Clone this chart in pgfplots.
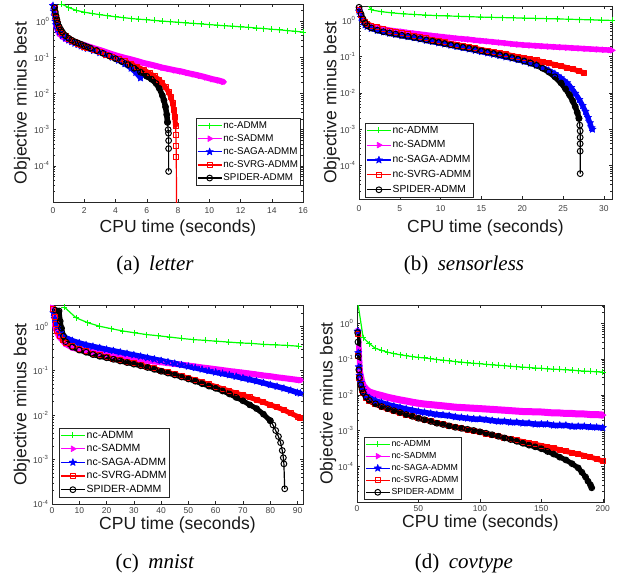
\documentclass[border=0pt]{standalone}
\usepackage{fontspec}
\setmainfont{Liberation Sans}
\newfontfamily\capfont{Liberation Serif}
\usepackage{pgfplots}
\pgfplotsset{compat=1.18}
\usetikzlibrary{plotmarks}
\pgfkeys{/pgf/number format/assume math mode=true}

\pgfdeclareplotmark{pentagram*}{%
  \pgfpathmoveto{\pgfpointpolar{90}{\pgfplotmarksize}}%
  \pgfpathlineto{\pgfpointpolar{126}{0.4\pgfplotmarksize}}%
  \pgfpathlineto{\pgfpointpolar{162}{\pgfplotmarksize}}%
  \pgfpathlineto{\pgfpointpolar{198}{0.4\pgfplotmarksize}}%
  \pgfpathlineto{\pgfpointpolar{234}{\pgfplotmarksize}}%
  \pgfpathlineto{\pgfpointpolar{270}{0.4\pgfplotmarksize}}%
  \pgfpathlineto{\pgfpointpolar{306}{\pgfplotmarksize}}%
  \pgfpathlineto{\pgfpointpolar{342}{0.4\pgfplotmarksize}}%
  \pgfpathlineto{\pgfpointpolar{18}{\pgfplotmarksize}}%
  \pgfpathlineto{\pgfpointpolar{54}{0.4\pgfplotmarksize}}%
  \pgfpathclose
  \pgfusepathqfillstroke
}

\definecolor{mgreen}{rgb}{0,1,0}
\definecolor{mmag}{rgb}{1,0,1}
\definecolor{mblue}{rgb}{0,0,1}
\definecolor{mred}{rgb}{1,0,0}

\pgfplotsset{
  matax/.style={
    scale only axis, xmin=0,
    axis line style={black!85, line width=0.6bp},
    every tick/.style={black!85, line width=0.5bp},
    major tick length=3bp, minor tick length=1.7bp,
    tick align=inside,
    ytick={1e-4,1e-3,1e-2,1e-1,1},
    yticklabels={10\textsuperscript{-4},10\textsuperscript{-3},10\textsuperscript{-2},10\textsuperscript{-1},10\textsuperscript{0}},
    minor ytick={2e-5,3e-5,4e-5,5e-5,6e-5,7e-5,8e-5,9e-5,2e-4,3e-4,4e-4,5e-4,6e-4,7e-4,8e-4,9e-4,
      2e-3,3e-3,4e-3,5e-3,6e-3,7e-3,8e-3,9e-3,0.02,0.03,0.04,0.05,0.06,0.07,0.08,0.09,
      0.2,0.3,0.4,0.5,0.6,0.7,0.8,0.9,2,3},
    tick label style={font=\fontsize{8.5bp}{9bp}\selectfont, text=black!75},
    label style={font=\fontsize{17.5bp}{20bp}\selectfont, text=black!90},
    xlabel={CPU time (seconds)}, ylabel={Objective minus best},
    legend cell align=left,
    legend style={draw=black!85, line width=0.5bp, fill=white,
      inner xsep=1bp, inner ysep=1.5bp, nodes={inner sep=1.2bp}},
    legend image code/.code={\draw[line width=1.2bp, line cap=butt, mark repeat=2, mark phase=2]
      plot coordinates {(0bp,0bp) (12bp,0bp) (24bp,0bp)};},
  },
}
\tikzset{
  sGreen/.style={color=mgreen, line width=1.2bp, mark=+, mark size=3bp, mark options={line width=1bp}},
  sMag/.style={color=mmag, line width=1.2bp, mark=triangle*, mark size=3.2bp, mark options={rotate=-90, line width=0.8bp}},
  sBlue/.style={color=mblue, line width=1.2bp, mark=pentagram*, mark size=3.8bp, mark options={line width=0.6bp}},
  sRed/.style={color=mred, line width=1.2bp, mark=square, mark size=2.5bp, mark options={line width=1bp}},
  sBlack/.style={color=black, line width=1.2bp, mark=o, mark size=2.9bp, mark options={line width=1bp}},
  band/.style={line width=#1, line join=round, line cap=round},
}

\begin{document}
\begin{tikzpicture}
\useasboundingbox (0,0) rectangle (618bp,-582bp);

% (a) letter
\begin{semilogyaxis}[matax, width=250bp, height=198bp, at={(53bp,-4bp)}, anchor=north west,
  xmax=16, ymin=1e-5, ymax=3, xtick={0,2,...,16},
  xticklabel style={yshift=-2bp},
  xlabel style={at={(axis description cs:0.5,0)}, anchor=center, yshift=-26bp},
  ylabel style={at={(axis description cs:-0.124,0.5)}, anchor=center},
  legend style={at={(0.99,0.085)}, anchor=south east, row sep=2.4bp, font=\fontsize{9.8bp}{11bp}\selectfont}]
\addplot[sGreen] coordinates {(0.55,3.0) (1.0,2.4) (1.5,2.0) (2.0,1.78) (2.5,1.64) (3.0,1.52) (3.5,1.42) (4.0,1.33) (4.5,1.26) (5.0,1.19) (5.5,1.14) (6.0,1.1) (6.5,1.05) (7.0,1.01) (7.5,0.97) (8.0,0.94) (8.5,0.9) (9.0,0.87) (9.5,0.84) (10.0,0.81) (10.5,0.78) (11.0,0.75) (11.5,0.73) (12.0,0.7) (12.5,0.68) (13.0,0.65) (13.5,0.63) (14.0,0.6) (14.5,0.58) (15.0,0.55) (15.5,0.53) (16.0,0.5)};
\addplot[sMag, band=6bp] coordinates {(0.0,2.6) (0.05,1.8) (0.1,1.3) (0.15,0.95) (0.2,0.75) (0.3,0.56) (0.4,0.46) (0.6,0.38) (0.8,0.33) (1.0,0.3) (1.2,0.28) (1.4,0.26) (1.6,0.245) (1.8,0.232) (2.0,0.22) (2.2,0.205) (2.6,0.18) (3.0,0.16) (3.4,0.14) (3.8,0.122) (4.2,0.108) (4.6,0.097) (5.0,0.088) (5.4,0.079) (5.8,0.07) (6.2,0.064) (6.6,0.058) (7.0,0.052) (7.4,0.048) (7.8,0.044) (8.2,0.041) (8.6,0.037) (9.0,0.034) (9.4,0.031) (9.8,0.028) (10.2,0.025) (10.6,0.023) (10.9,0.021)};
\addplot[sBlue, band=5bp] coordinates {(0.0,2.7) (0.05,1.9) (0.1,1.4) (0.15,1.0) (0.2,0.8) (0.3,0.6) (0.4,0.5) (0.6,0.4) (0.8,0.34) (1.0,0.3) (1.2,0.27) (1.4,0.245) (1.6,0.225) (1.8,0.205) (2.0,0.19) (2.2,0.177) (2.6,0.155) (3.0,0.135) (3.4,0.117) (3.8,0.1) (4.2,0.083) (4.6,0.066) (5.0,0.05) (5.3,0.038) (5.6,0.027)};
\addplot[sRed, band=5bp] coordinates {(0.1,2.3) (0.15,1.7) (0.2,1.3) (0.25,1.05) (0.3,0.85) (0.4,0.65) (0.5,0.55) (0.6,0.47) (0.8,0.38) (1.0,0.32) (1.2,0.29) (1.4,0.26) (1.6,0.24) (1.8,0.215) (2.0,0.2) (2.2,0.185) (2.6,0.16) (3.0,0.14) (3.4,0.12) (3.8,0.104) (4.2,0.09) (4.6,0.078) (5.0,0.066) (5.4,0.055) (5.8,0.045) (6.2,0.036) (6.5,0.03) (6.8,0.024) (7.0,0.019) (7.2,0.015) (7.4,0.011) (7.55,0.0078) (7.65,0.0055) (7.73,0.0036) (7.8,0.0022) (7.84,0.0013)};
\addplot[sRed, forget plot] coordinates {(7.84,0.0013) (7.87,0.0007) (7.88,0.00035) (7.89,0.00018) (7.92,0.000001)};
\addplot[sBlack, band=5.5bp] coordinates {(0.1,2.4) (0.15,1.8) (0.2,1.4) (0.25,1.1) (0.3,0.9) (0.4,0.7) (0.5,0.58) (0.6,0.5) (0.8,0.4) (1.0,0.34) (1.2,0.3) (1.4,0.27) (1.6,0.25) (1.8,0.23) (2.0,0.21) (2.2,0.195) (2.4,0.18) (2.8,0.155) (3.2,0.13) (3.6,0.11) (4.0,0.092) (4.4,0.077) (4.8,0.063) (5.2,0.05) (5.6,0.039) (6.0,0.03) (6.3,0.025) (6.6,0.019) (6.8,0.014) (7.0,0.0088) (7.1,0.0065) (7.2,0.0043) (7.28,0.0026) (7.33,0.0016)};
\addplot[sBlack, forget plot] coordinates {(7.33,0.0016) (7.37,0.001) (7.39,0.0008) (7.4,0.0005) (7.4,0.0003) (7.4,0.00007)};
\legend{nc-ADMM, nc-SADMM, nc-SAGA-ADMM, nc-SVRG-ADMM, SPIDER-ADMM}
\end{semilogyaxis}

% (b) sensorless
\begin{semilogyaxis}[matax, width=253bp, height=193bp, at={(359bp,-6bp)}, anchor=north west,
  xmax=31, ymin=1.2e-5, ymax=2.5, xtick={0,5,...,30},
  xticklabel style={yshift=-3bp},
  xlabel style={at={(axis description cs:0.5,0)}, anchor=center, yshift=-29bp},
  ylabel style={at={(axis description cs:-0.107,0.5)}, anchor=center},
  legend style={at={(0.024,0.01)}, anchor=south west, row sep=3.8bp, font=\fontsize{10.3bp}{12bp}\selectfont}]
\addplot[sGreen] coordinates {(1.0,3.0) (1.5,1.95) (2.7,1.75) (4.0,1.62) (5.4,1.52) (6.8,1.46) (8.1,1.41) (9.5,1.36) (10.8,1.33) (12.2,1.3) (13.5,1.27) (14.9,1.24) (16.2,1.22) (17.6,1.2) (18.9,1.18) (20.3,1.16) (21.6,1.14) (23.0,1.12) (24.3,1.1) (25.7,1.08) (27.0,1.06) (28.4,1.04) (29.7,1.02) (31.0,1.0)};
\addplot[sMag, band=5.5bp] coordinates {(0,2.0) (0.25,1.3) (0.5,1.0) (0.75,0.85) (1.0,0.78) (1.5,0.7) (2.25,0.63) (3.0,0.58) (3.75,0.54) (4.5,0.51) (5.25,0.49) (6.0,0.46) (6.75,0.44) (7.5,0.42) (8.25,0.4) (9.0,0.38) (9.75,0.365) (10.5,0.35) (11.25,0.335) (12.0,0.32) (12.75,0.31) (13.5,0.3) (14.25,0.285) (15.0,0.275) (15.75,0.265) (16.5,0.255) (17.25,0.245) (18.0,0.235) (18.75,0.225) (19.5,0.217) (20.25,0.21) (21.0,0.205) (21.75,0.2) (22.5,0.195) (23.25,0.19) (24.0,0.186) (24.75,0.182) (25.5,0.178) (26.25,0.174) (27.0,0.17) (27.75,0.166) (28.5,0.162) (29.25,0.159) (30.0,0.155) (30.75,0.152) (31.0,0.15)};
\addplot[sBlue, band=5bp] coordinates {(0,1.8) (0.25,1.2) (0.5,0.9) (0.75,0.75) (1.0,0.68) (1.5,0.6) (2.25,0.53) (3.0,0.48) (3.75,0.44) (4.5,0.41) (5.25,0.38) (6.0,0.355) (6.75,0.33) (7.5,0.305) (8.25,0.28) (9.0,0.26) (9.75,0.24) (10.5,0.222) (11.25,0.205) (12.0,0.19) (12.75,0.175) (13.5,0.162) (14.25,0.149) (15.0,0.137) (15.75,0.126) (16.5,0.116) (17.25,0.107) (18.0,0.098) (18.75,0.09) (19.5,0.082) (20.25,0.074) (21.0,0.066) (21.75,0.058) (22.5,0.05) (23.25,0.042) (24.0,0.034) (24.75,0.026) (25.5,0.019) (26.0,0.014) (26.5,0.0098) (27.0,0.0066) (27.4,0.0045) (27.75,0.0031) (28.05,0.0021) (28.3,0.0015) (28.5,0.0011) (28.6,0.001)};
\addplot[sRed, band=5bp] coordinates {(0,2.0) (0.25,1.4) (0.5,1.05) (0.75,0.9) (1.0,0.82) (1.5,0.72) (2.25,0.64) (3.0,0.57) (3.75,0.52) (4.5,0.48) (5.25,0.44) (6.0,0.41) (6.75,0.38) (7.5,0.35) (8.25,0.32) (9.0,0.295) (9.75,0.27) (10.5,0.25) (11.25,0.23) (12.0,0.215) (12.75,0.2) (13.5,0.185) (14.25,0.17) (15.0,0.157) (15.75,0.146) (16.5,0.136) (17.25,0.126) (18.0,0.117) (18.75,0.108) (19.5,0.1) (20.25,0.093) (21.0,0.086) (21.75,0.079) (22.5,0.073) (23.25,0.066) (24.0,0.061) (24.75,0.055) (25.5,0.05) (26.25,0.045) (27.0,0.04) (27.6,0.036)};
\addplot[sBlack, band=5.5bp] coordinates {(0,2.3) (0.25,1.5) (0.5,1.1) (0.75,0.85) (1.0,0.72) (1.5,0.62) (2.25,0.54) (3.0,0.49) (3.75,0.45) (4.5,0.42) (5.25,0.39) (6.0,0.365) (6.75,0.34) (7.5,0.315) (8.25,0.29) (9.0,0.27) (9.75,0.25) (10.5,0.23) (11.25,0.213) (12.0,0.197) (12.75,0.183) (13.5,0.17) (14.25,0.157) (15.0,0.145) (15.75,0.134) (16.5,0.123) (17.25,0.113) (18.0,0.103) (18.75,0.094) (19.5,0.085) (20.25,0.076) (21.0,0.067) (21.75,0.058) (22.5,0.048) (23.25,0.038) (24.0,0.028) (24.75,0.019) (25.3,0.013) (25.8,0.0088) (26.2,0.006) (26.5,0.0042) (26.75,0.0029) (26.95,0.002)};
\addplot[sBlack, forget plot] coordinates {(26.95,0.002) (27.05,0.0013) (27.1,0.0009) (27.1,0.0006) (27.1,0.0004) (27.1,0.00025) (27.1,0.00006)};
\legend{nc-ADMM, nc-SADMM, nc-SAGA-ADMM, nc-SVRG-ADMM, SPIDER-ADMM}
\end{semilogyaxis}

% (c) mnist
\begin{semilogyaxis}[matax, width=251bp, height=199bp, at={(52bp,-305bp)}, anchor=north west,
  xmax=92, ymin=1e-4, ymax=3, xtick={0,10,...,90},
  xlabel style={at={(axis description cs:0.5,0)}, anchor=center, yshift=-21bp},
  ylabel style={at={(axis description cs:-0.12,0.5)}, anchor=center},
  legend style={at={(0.028,0.035)}, anchor=south west, row sep=2.4bp, font=\fontsize{10.5bp}{12bp}\selectfont}]
\addplot[sGreen] coordinates {(4.5,2.7) (8.8,1.55) (13.1,1.2) (17.4,1.0) (21.7,0.88) (26.0,0.78) (30.3,0.71) (34.6,0.65) (38.9,0.61) (43.2,0.57) (47.5,0.53) (51.8,0.5) (56.1,0.48) (60.4,0.46) (64.7,0.44) (69.0,0.42) (73.3,0.41) (77.6,0.39) (81.9,0.38) (86.2,0.37) (90.5,0.355)};
\addplot[sMag, band=6bp] coordinates {(0,2.6) (0.5,1.7) (1.0,1.15) (1.5,0.85) (2.5,0.6) (5.0,0.4) (7.5,0.33) (10.0,0.3) (12.5,0.28) (15.0,0.26) (17.5,0.245) (20.0,0.23) (22.5,0.217) (25.0,0.205) (27.5,0.195) (30.0,0.185) (32.5,0.176) (35.0,0.168) (37.5,0.161) (40.0,0.155) (42.5,0.148) (45.0,0.142) (47.5,0.136) (50.0,0.13) (52.5,0.124) (55.0,0.118) (57.5,0.113) (60.0,0.108) (62.5,0.103) (65.0,0.098) (67.5,0.094) (70.0,0.09) (72.5,0.086) (75.0,0.082) (77.5,0.078) (80.0,0.075) (82.5,0.071) (85.0,0.068) (87.5,0.065) (90.0,0.062) (91.0,0.061)};
\addplot[sBlue, band=5.5bp] coordinates {(0.5,2.0) (1.0,1.5) (1.5,1.15) (2.0,0.95) (3.0,0.72) (4.0,0.6) (5.0,0.55) (7.5,0.47) (10.0,0.42) (12.5,0.38) (15.0,0.35) (17.5,0.325) (20.0,0.3) (22.5,0.28) (25.0,0.26) (27.5,0.242) (30.0,0.225) (32.5,0.21) (35.0,0.195) (37.5,0.181) (40.0,0.168) (42.5,0.156) (45.0,0.145) (47.5,0.135) (50.0,0.125) (52.5,0.116) (55.0,0.107) (57.5,0.099) (60.0,0.092) (62.5,0.086) (65.0,0.08) (67.5,0.074) (70.0,0.068) (72.5,0.063) (75.0,0.058) (77.5,0.053) (80.0,0.048) (82.5,0.044) (85.0,0.04) (87.5,0.036) (90.0,0.032) (91.0,0.031)};
\addplot[sRed, band=5bp] coordinates {(0.5,2.5) (1.0,1.6) (1.5,1.1) (2.0,0.8) (3.0,0.6) (4.0,0.5) (5.0,0.43) (7.5,0.35) (10.0,0.3) (12.5,0.27) (15.0,0.24) (17.5,0.22) (20.0,0.2) (22.5,0.185) (25.0,0.17) (27.5,0.157) (30.0,0.145) (32.5,0.134) (35.0,0.123) (37.5,0.112) (40.0,0.1) (42.5,0.092) (45.0,0.083) (47.5,0.075) (50.0,0.068) (52.5,0.061) (55.0,0.055) (57.5,0.049) (60.0,0.044) (62.5,0.039) (65.0,0.035) (67.5,0.031) (70.0,0.028) (72.5,0.025) (75.0,0.022) (77.5,0.0195) (80.0,0.017) (82.5,0.015) (85.0,0.013) (87.5,0.011) (90.0,0.0093) (91.0,0.0086)};
\addplot[sBlack, band=5bp] coordinates {(1.2,2.3) (2.6,2.2) (3.0,1.3) (3.5,0.9) (4.2,0.6) (5.0,0.45) (7.5,0.34) (10.0,0.29) (12.5,0.26) (15.0,0.23) (17.5,0.21) (20.0,0.195) (22.5,0.18) (25.0,0.165) (27.5,0.152) (30.0,0.14) (32.5,0.129) (35.0,0.118) (37.5,0.107) (40.0,0.097) (42.5,0.088) (45.0,0.08) (47.5,0.072) (50.0,0.065) (52.5,0.058) (55.0,0.051) (57.5,0.045) (60.0,0.04) (62.5,0.035) (65.0,0.03) (67.5,0.025) (70.0,0.021) (72.5,0.017) (75.0,0.014) (77.5,0.0105) (80.0,0.0075)};
\addplot[sBlack, forget plot] coordinates {(80.0,0.0075) (81.0,0.006) (82.0,0.0045) (83.0,0.0033) (83.8,0.0024) (84.4,0.0016) (84.8,0.0011) (85.0,0.0008) (85.3,0.00022)};
\legend{nc-ADMM, nc-SADMM, nc-SAGA-ADMM, nc-SVRG-ADMM, SPIDER-ADMM}
\end{semilogyaxis}

% (d) covtype
\begin{semilogyaxis}[matax, width=247bp, height=197bp, at={(357bp,-305bp)}, anchor=north west,
  xmax=201, ymin=1e-5, ymax=3.25, xtick={0,50,...,200},
  xlabel style={at={(axis description cs:0.5,0)}, anchor=center, yshift=-21bp},
  ylabel style={at={(axis description cs:-0.117,0.5)}, anchor=center},
  legend style={at={(0.028,0.015)}, anchor=south west, row sep=2bp, font=\fontsize{8.8bp}{10bp}\selectfont}]
\addplot[sGreen] coordinates {(0.8,3.5) (5,0.4) (10,0.27) (15,0.2) (20,0.175) (25,0.155) (30,0.142) (35,0.132) (40,0.124) (45,0.117) (50,0.111) (55,0.107) (60,0.102) (65,0.097) (70,0.093) (75,0.089) (80,0.085) (85,0.082) (90,0.078) (95,0.076) (100,0.074) (105,0.071) (110,0.069) (115,0.067) (120,0.065) (125,0.063) (130,0.061) (135,0.059) (140,0.058) (145,0.056) (150,0.055) (155,0.053) (160,0.052) (165,0.051) (170,0.05) (175,0.049) (180,0.047) (185,0.046) (190,0.045) (195,0.044) (200,0.043)};
\addplot[sMag, band=7bp] coordinates {(0.5,0.6) (1,0.2) (1.5,0.08) (2,0.045) (3,0.03) (4,0.022) (5,0.018) (7.5,0.014) (10,0.012) (15,0.0105) (20,0.0095) (25,0.0085) (30,0.0078) (35,0.0072) (40,0.0067) (45,0.0062) (50,0.0058) (55,0.0055) (60,0.0053) (65,0.0051) (70,0.0049) (75,0.0047) (80,0.0045) (85,0.0044) (90,0.0043) (95,0.0042) (100,0.0041) (105,0.004) (110,0.0039) (115,0.0038) (120,0.0037) (125,0.0036) (130,0.0035) (135,0.0034) (140,0.0034) (145,0.0033) (150,0.0033) (155,0.0032) (160,0.0031) (165,0.0031) (170,0.003) (175,0.003) (180,0.0029) (185,0.0029) (190,0.0028) (195,0.0028) (200,0.0027)};
\addplot[sBlue, band=5.5bp] coordinates {(0.5,0.6) (1,0.15) (1.5,0.06) (2,0.035) (3,0.022) (4,0.016) (5,0.013) (7.5,0.0095) (10,0.0082) (15,0.0068) (20,0.006) (25,0.0053) (30,0.0048) (35,0.0044) (40,0.004) (45,0.0037) (50,0.0034) (55,0.0032) (60,0.003) (65,0.0028) (70,0.0027) (75,0.0026) (80,0.0024) (85,0.0023) (90,0.0022) (95,0.0021) (100,0.0021) (105,0.002) (110,0.0019) (115,0.0018) (120,0.0018) (125,0.0017) (130,0.0017) (135,0.0016) (140,0.0016) (145,0.0015) (150,0.0015) (155,0.0015) (160,0.0014) (165,0.0014) (170,0.0014) (175,0.0013) (180,0.0013) (185,0.0013) (190,0.00125) (195,0.00123) (200,0.0012)};
\addplot[sRed, band=5bp] coordinates {(0.5,0.5) (1,0.12) (1.5,0.05) (2,0.03) (3,0.019) (4,0.014) (5,0.011) (7.5,0.0082) (10,0.0067) (15,0.0054) (20,0.0046) (25,0.004) (30,0.0035) (35,0.0031) (40,0.0028) (45,0.0025) (50,0.0022) (55,0.002) (60,0.0018) (65,0.00165) (70,0.0015) (75,0.00138) (80,0.00126) (85,0.00115) (90,0.00105) (95,0.00097) (100,0.0009) (105,0.00082) (110,0.00075) (115,0.00069) (120,0.00063) (125,0.00058) (130,0.00053) (135,0.00049) (140,0.00045) (145,0.00041) (150,0.00038) (155,0.00035) (160,0.00032) (165,0.00029) (170,0.00026) (175,0.00024) (180,0.00022) (185,0.0002) (190,0.00018) (195,0.00016) (200,0.00014)};
\addplot[sBlack, band=5bp] coordinates {(0.5,0.55) (0.8,0.3) (1,0.12) (1.5,0.05) (2,0.03) (3,0.019) (4,0.0145) (5,0.0115) (7.5,0.0085) (10,0.007) (15,0.0056) (20,0.0047) (25,0.0041) (30,0.0036) (35,0.0032) (40,0.0028) (45,0.0025) (50,0.0022) (55,0.002) (60,0.0018) (65,0.0016) (70,0.00148) (75,0.00135) (80,0.00123) (85,0.00115) (90,0.00108) (95,0.001) (100,0.00092) (105,0.00084) (110,0.00076) (115,0.00069) (120,0.00062) (125,0.00056) (130,0.0005) (135,0.00044) (140,0.00039) (145,0.00035) (150,0.00031) (155,0.00026) (160,0.00022) (165,0.00018) (170,0.00015) (175,0.000118) (180,0.00009) (183,0.000068) (186,0.00005) (188,0.000038) (190,0.00003) (191,0.000025)};
\legend{nc-ADMM, nc-SADMM, nc-SAGA-ADMM, nc-SVRG-ADMM, SPIDER-ADMM}
\end{semilogyaxis}

\node[font=\capfont\fontsize{21bp}{24bp}\selectfont] at (155bp,-265bp) {(a)\hspace{0.45em}\textit{letter}};
\node[font=\capfont\fontsize{21bp}{24bp}\selectfont] at (464bp,-265bp) {(b)\hspace{0.45em}\textit{sensorless}};
\node[font=\capfont\fontsize{21bp}{24bp}\selectfont] at (155bp,-563bp) {(c)\hspace{0.45em}\textit{mnist}};
\node[font=\capfont\fontsize{21bp}{24bp}\selectfont] at (464bp,-563bp) {(d)\hspace{0.45em}\textit{covtype}};
\end{tikzpicture}
\end{document}
